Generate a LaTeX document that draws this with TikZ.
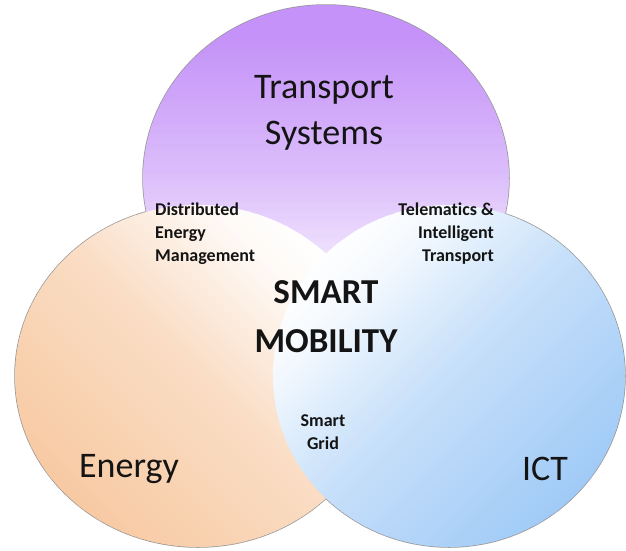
\documentclass[tikz,border=0pt]{standalone}
\usepackage{fontspec}
\setmainfont{Carlito}[Ligatures=CommonOff]
\definecolor{violetC}{RGB}{196,146,248}
\definecolor{peachC}{RGB}{247,200,160}
\definecolor{skyC}{RGB}{156,200,246}
\definecolor{rimC}{RGB}{150,150,150}
\definecolor{inkC}{RGB}{20,20,20}
\begin{document}
\begin{tikzpicture}[x=1pt,y=-1pt,
  rim/.style={draw=rimC,line width=1.5pt},
  bigtext/.style={inner sep=0pt,text=inkC,align=center,font=\fontsize{36}{46}\selectfont},
  heavytext/.style={inner sep=0pt,text=inkC,align=center,font=\fontsize{35}{49}\selectfont\bfseries},
  smalltext/.style={inner sep=0pt,text=inkC,font=\fontsize{18}{23}\selectfont\bfseries}]
\useasboundingbox[fill=white] (0,0) rectangle (626,550);
% outlines first: the fills cover their inner halves
\draw[rim] (326,178) ellipse [x radius=183pt, y radius=173pt];
\draw[rim] (198,376) ellipse [x radius=183pt, y radius=171pt];
\draw[rim] (449,376) ellipse [x radius=176pt, y radius=171pt];
% Transport Systems: violet at the top, fading downwards
\begin{scope}
  \clip (326,178) ellipse [x radius=183pt, y radius=173pt];
  \begin{scope}[shift={(326,178)}, rotate=90]
    \foreach \u in {-180,-176,...,180}{
      \pgfmathtruncatemacro\p{\u>=138 ? 100 : (\u>=0 ? 60+40*\u/138 : (\u>=-75 ? 60+30*\u/75 : (\u>=-120 ? 30+22*(\u+75)/45 : max(0,8+8*(\u+120)/53))))}
      \fill[violetC!\p!white] (\u,-200) rectangle (\u+5,200);
    }
  \end{scope}
\end{scope}
% Energy: peach at the lower left, fading towards the upper right
\begin{scope}
  \clip (198,376) ellipse [x radius=183pt, y radius=171pt];
  \begin{scope}[shift={(198,376)}, rotate=45]
    \foreach \u in {-192,-188,...,192}{
      \pgfmathtruncatemacro\p{\u<0 ? 100-38*(\u+192)/192 : (\u<126 ? 62-52*\u/126 : max(0,10-10*(\u-126)/54))}
      \fill[peachC!\p!white] (\u,-200) rectangle (\u+5,200);
    }
  \end{scope}
\end{scope}
% ICT: sky blue at the lower right, fading towards the upper left
\begin{scope}
  \clip (449,376) ellipse [x radius=176pt, y radius=171pt];
  \begin{scope}[shift={(449,376)}, rotate=135]
    \foreach \u in {-192,-188,...,192}{
      \pgfmathtruncatemacro\p{\u<0 ? 100-42*(\u+192)/192 : (\u<126 ? 58-48*\u/126 : max(0,10-10*(\u-126)/54))}
      \fill[skyC!\p!white] (\u,-200) rectangle (\u+5,200);
    }
  \end{scope}
\end{scope}
% labels
\node[bigtext] (transport) at (324,113) {Transport\\Systems};
\node[bigtext] (energy) at (129,469) {Energy};
\node[bigtext] (ict) at (545,469) {ICT};
\node[heavytext] (smart) at (326,317) {SMART\\MOBILITY};
\node[smalltext,align=left,anchor=west] (dem) at (155,234) {Distributed\\Energy\\Management};
\node[smalltext,align=right,anchor=east] (tit) at (494,234) {Telematics \&\\Intelligent\\Transport};
\node[smalltext,align=center] (grid) at (323,432) {Smart\\Grid};
\end{tikzpicture}
\end{document}
